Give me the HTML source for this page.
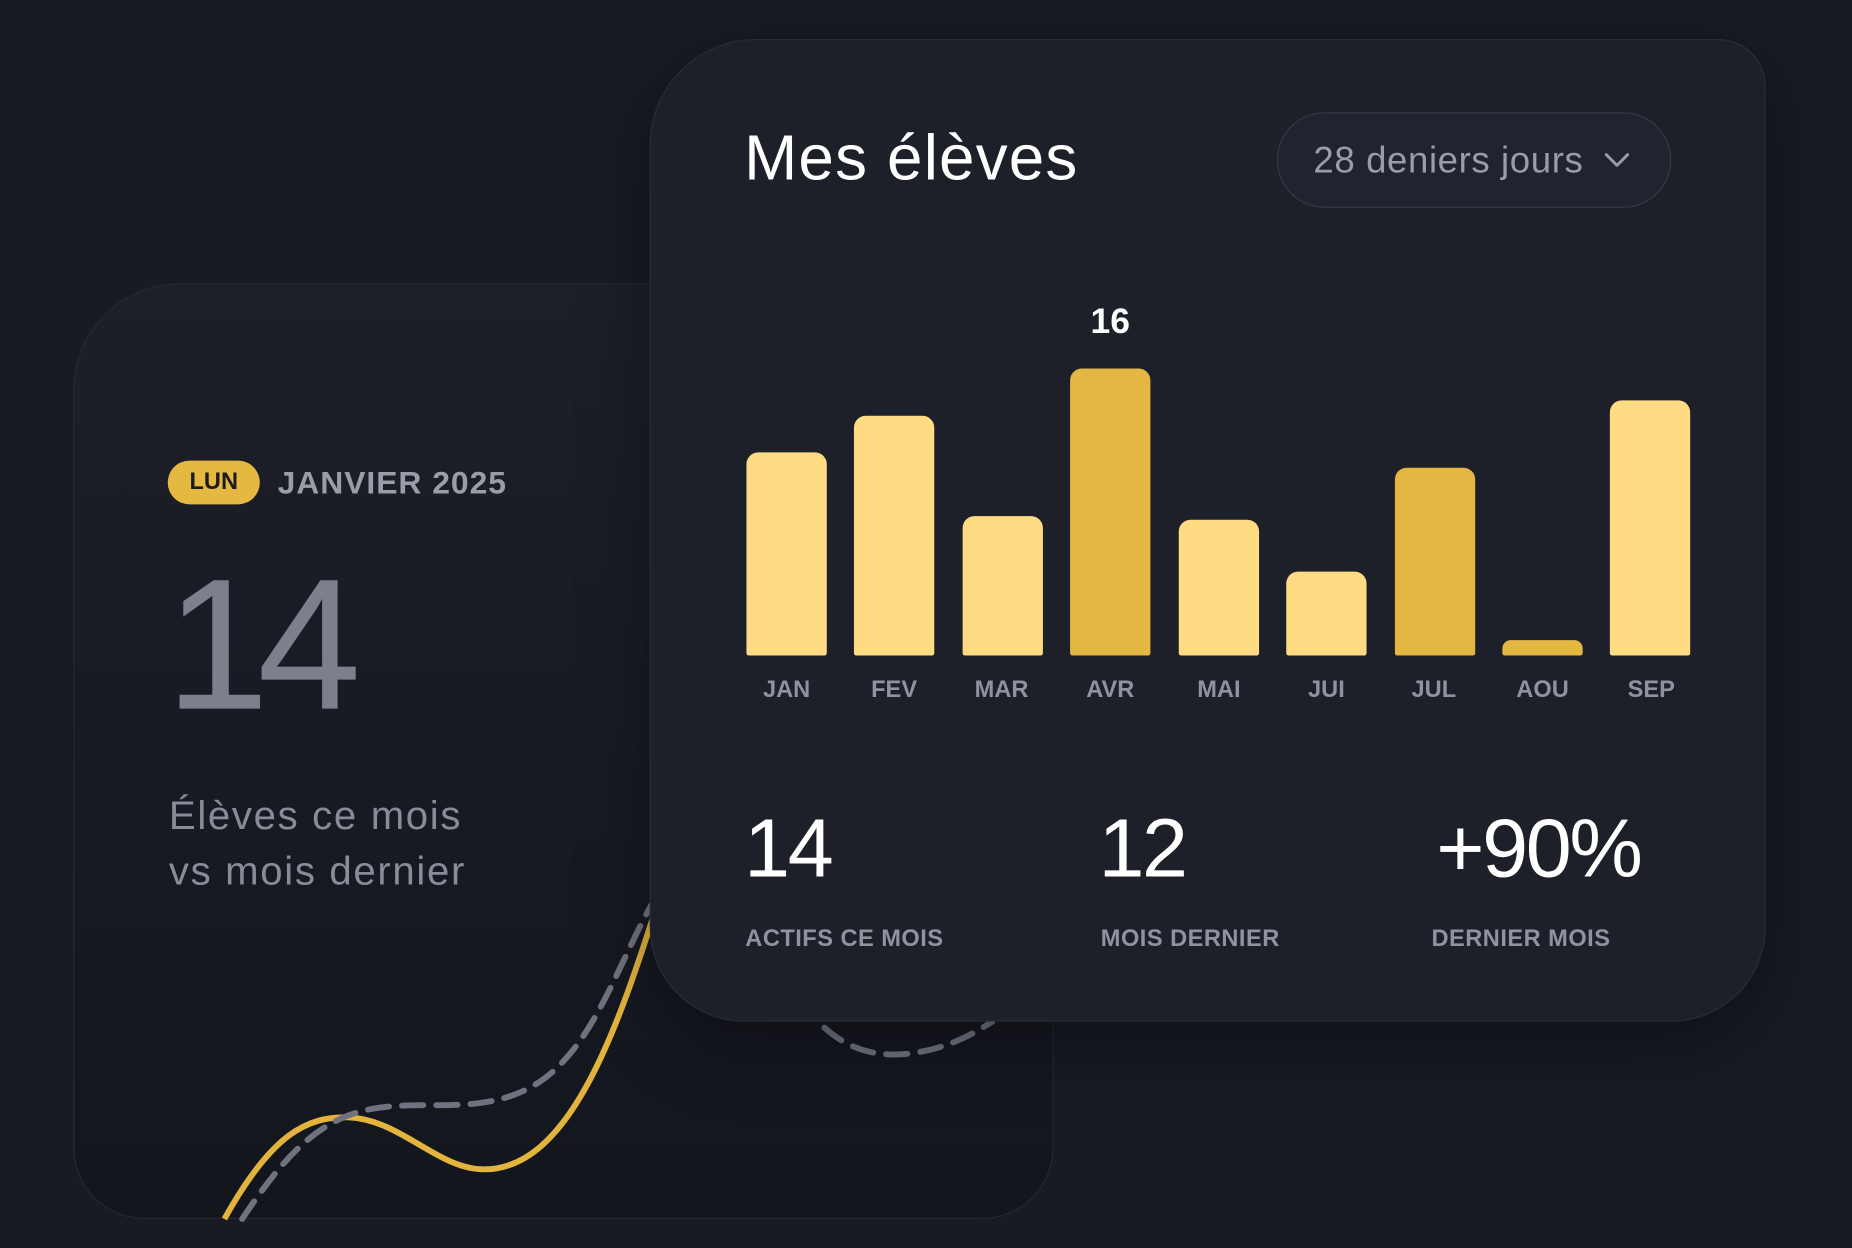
<!DOCTYPE html>
<html><head><meta charset="utf-8"><style>
html,body{margin:0;padding:0;background:#181a24;overflow:hidden;width:1852px;height:1248px}
#w{position:absolute;left:0;top:0;width:1568px;height:1057px;transform:scale(1.18112);transform-origin:0 0;font-family:"Liberation Sans",sans-serif;background:#181a24}
.card{position:absolute;box-sizing:border-box}
#lc{left:62px;top:240px;width:830px;height:792px;border-radius:90px 0 60px 60px;background:linear-gradient(180deg,#1d1f29,#14161e);border:1px solid #262834}
#rc{left:550px;top:33px;width:945px;height:832px;border-radius:90px 40px 80px 80px;background:#1d1f29;border:1px solid #2a2c37;box-shadow:0 20px 60px rgba(0,0,0,.35)}
.t{position:absolute;white-space:nowrap}
.bar{position:absolute;width:68px;border-radius:10px 10px 2px 2px;background:#ffdc84}
.d{background:#e4b743}
.lab{position:absolute;top:573px;width:92px;text-align:center;font-size:20px;font-weight:bold;color:#8f92a0}
.sl{font-size:20px;font-weight:bold;color:#8f92a0;top:784px;letter-spacing:.4px}
.sv{font-size:70px;color:#fff;top:678px;font-weight:300;letter-spacing:-2px}
</style></head><body><div id="w">
<div class="card" id="lc"></div>
<div class="t" style="left:142px;top:390px;width:78px;height:37px;border-radius:19px;background:#e5b842;color:#1a1a1f;font-size:20px;font-weight:bold;text-align:center;line-height:37px">LUN</div>
<div class="t" style="left:235px;top:394px;font-size:27px;font-weight:bold;color:#9a9ca8;letter-spacing:.8px">JANVIER 2025</div>
<div class="t" style="left:140px;top:467px;font-size:158px;color:#7c7f8c;line-height:1;letter-spacing:-10px">14</div>
<div class="t" style="left:143px;top:668px;font-size:34px;color:#888b98;line-height:47px;letter-spacing:1.4px">Élèves ce mois<br>vs mois dernier</div>
<svg width="1568" height="1057" style="position:absolute;left:0;top:0">
<path d="M190 1032 C230 960 260 945 295 946 C340 948 370 990 410 990 C480 990 520 880 555 770" fill="none" stroke="#e2b43e" stroke-width="5"/>
<path d="M205 1032 C240 980 270 945 320 938 C360 932 400 942 440 925 C500 900 520 820 555 760" fill="none" stroke="#70737f" stroke-width="5" stroke-dasharray="18 11" stroke-linecap="round"/>
<path d="M698 870 C720 890 745 895 770 892 C800 888 820 878 840 865" fill="none" stroke="#70737f" stroke-width="5" stroke-dasharray="18 11" stroke-linecap="round"/>
</svg>
<div class="card" id="rc"></div>
<div class="t" style="left:630px;top:105px;font-size:54px;color:#fff;line-height:1.1;letter-spacing:1px">Mes élèves</div>
<div class="t" style="left:1081px;top:95px;width:334px;height:81px;box-sizing:border-box;border-radius:41px;border:1.5px solid #363946;background:#21242e"></div>
<div class="t" style="left:1112px;top:118px;font-size:31px;color:#9a9ca8;letter-spacing:.5px">28 deniers jours</div>
<svg width="24" height="16" style="position:absolute;left:1357px;top:128px"><path d="M3 3 L12 12 L21 3" fill="none" stroke="#9a9ca8" stroke-width="2.5" stroke-linecap="round" stroke-linejoin="round"/></svg>
<div class="t" style="left:906px;width:68px;text-align:center;top:256px;font-size:30px;font-weight:bold;color:#fff">16</div>
<div class="bar" style="left:632px;top:383px;height:172px"></div>
<div class="bar" style="left:723px;top:352px;height:203px"></div>
<div class="bar" style="left:815px;top:437px;height:118px"></div>
<div class="bar d" style="left:906px;top:312px;height:243px"></div>
<div class="bar" style="left:998px;top:440px;height:115px"></div>
<div class="bar" style="left:1089px;top:484px;height:71px"></div>
<div class="bar d" style="left:1181px;top:396px;height:159px"></div>
<div class="bar d" style="left:1272px;top:542px;height:13px;border-radius:7px 7px 2px 2px"></div>
<div class="bar" style="left:1363px;top:339px;height:216px"></div>
<div class="lab" style="left:620px">JAN</div>
<div class="lab" style="left:711px">FEV</div>
<div class="lab" style="left:802px">MAR</div>
<div class="lab" style="left:894px">AVR</div>
<div class="lab" style="left:986px">MAI</div>
<div class="lab" style="left:1077px">JUI</div>
<div class="lab" style="left:1168px">JUL</div>
<div class="lab" style="left:1260px">AOU</div>
<div class="lab" style="left:1352px">SEP</div>
<div class="t sv" style="left:630px">14</div>
<div class="t sv" style="left:930px">12</div>
<div class="t sv" style="left:1216px">+90%</div>
<div class="t sl" style="left:631px">ACTIFS CE MOIS</div>
<div class="t sl" style="left:932px">MOIS DERNIER</div>
<div class="t sl" style="left:1212px">DERNIER MOIS</div>
</div></body></html>
